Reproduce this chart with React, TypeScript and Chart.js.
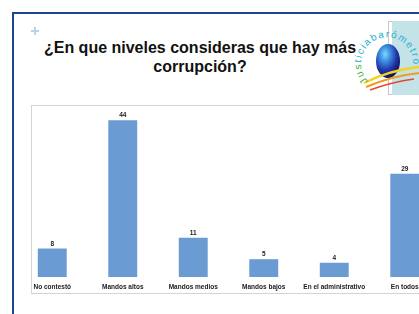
import React, { useEffect, useRef } from "react";
import { Chart, registerables } from "chart.js";

Chart.register(...registerables);

const categories = [
  "No contestó",
  "Mandos altos",
  "Mandos medios",
  "Mandos bajos",
  "En el administrativo",
  "En todos",
];
const values = [8, 44, 11, 5, 4, 29];
const titleLines = ["¿En que niveles consideras que hay más", "corrupción?"];
const logoText = "Justiciabarómetro";

const FONT = "'Liberation Sans', Arial, Helvetica, sans-serif";

const valueLabels = {
  id: "valueLabels",
  afterDatasetsDraw(chart: any) {
    const ctx = chart.ctx;
    const meta = chart.getDatasetMeta(0);
    const data = chart.data.datasets[0].data;
    ctx.save();
    ctx.font = `bold 6.5px ${FONT}`;
    ctx.fillStyle = "#1a1a1a";
    ctx.textAlign = "center";
    ctx.textBaseline = "alphabetic";
    meta.data.forEach((bar: any, i: number) => {
      ctx.fillText(String(data[i]), bar.x, bar.y - 3);
    });
    ctx.restore();
  },
};

function BarChart() {
  const ref = useRef<HTMLCanvasElement | null>(null);
  useEffect(() => {
    if (!ref.current) return;
    const chart = new Chart(ref.current, {
      type: "bar",
      data: {
        labels: categories,
        datasets: [
          {
            data: values,
            backgroundColor: "#6a9bd3",
            borderWidth: 0,
            categoryPercentage: 1,
            barPercentage: 0.41,
          },
        ],
      },
      options: {
        animation: false,
        responsive: false,
        maintainAspectRatio: false,
        devicePixelRatio: 1,
        layout: { padding: 0 },
        plugins: {
          legend: { display: false },
          tooltip: { enabled: false },
          title: { display: false },
        },
        scales: {
          x: {
            offset: true,
            grid: { display: false, drawTicks: false },
            border: { display: false },
            ticks: {
              padding: 6,
              color: "#1a1a1a",
              font: { family: FONT, size: 6.5, weight: "bold" },
              maxRotation: 0,
              minRotation: 0,
              autoSkip: false,
            },
            afterFit: (s: any) => {
              s.height = 16;
            },
          },
          y: { display: false, min: 0, max: 50 },
        },
      },
      plugins: [valueLabels],
    } as any);
    return () => chart.destroy();
  }, []);
  return (
    <canvas
      ref={ref}
      width={423}
      height={194}
      style={{ position: "absolute", left: 17, top: 99, width: 423, height: 194 }}
    />
  );
}

function Logo() {
  return (
    <svg
      width={419}
      height={110}
      viewBox="0 0 419 110"
      style={{ position: "absolute", left: 0, top: 0 }}
    >
      <defs>
        <radialGradient id="ball" cx="38%" cy="30%" r="75%">
          <stop offset="0%" stopColor="#7fd8ff" />
          <stop offset="30%" stopColor="#3a8ee0" />
          <stop offset="65%" stopColor="#2333a8" />
          <stop offset="100%" stopColor="#0e0f4a" />
        </radialGradient>
        <path id="arc" d="M 368 81 A 26 26 0 1 1 407 80" />
      </defs>
      {/* cross icon */}
      <line x1={35} y1={27} x2={35} y2={35} stroke="#b8d5e6" strokeWidth={2} />
      <line x1={31} y1={31} x2={39} y2={31} stroke="#b8d5e6" strokeWidth={2} />
      {/* logo panel */}
      <rect x={388.5} y={21.5} width={40} height={73} fill="#ffffff" stroke="#c6c6c6" />
      <rect x={392} y={21} width={30} height={74} fill="#c3e3e9" />
      <ellipse cx={388} cy={61} rx={12} ry={17} fill="url(#ball)" />
      <path d="M 364 83 Q 390 70 419 67" stroke="#f3d321" strokeWidth={2.5} fill="none" />
      <path d="M 366 87 Q 392 76 419 73" stroke="#f39a1d" strokeWidth={2} fill="none" />
      <path d="M 370 90 Q 392 82 414 79" stroke="#e5492e" strokeWidth={1.6} fill="none" />
      <text fontFamily={FONT} fontSize={10} letterSpacing={1.4} fill="#26b0c4">
        <textPath href="#arc">
          <tspan fill="#45b04a">Jus</tspan>
          {logoText.slice(3)}
        </textPath>
      </text>
    </svg>
  );
}

export default function App() {
  return (
    <div
      style={{
        position: "fixed",
        left: 0,
        top: 0,
        width: 419,
        height: 314,
        overflow: "hidden",
        background: "#ffffff",
        fontFamily: FONT,
      }}
    >
      <div
        style={{
          position: "absolute",
          left: 12,
          top: 12,
          width: 430,
          height: 330,
          border: "2px solid #1d4786",
          boxSizing: "border-box",
        }}
      />
      <div
        style={{
          position: "absolute",
          left: 0,
          top: 38,
          width: 400,
          textAlign: "center",
          fontSize: 16,
          lineHeight: "19px",
          fontWeight: "bold",
          color: "#111111",
        }}
      >
        {titleLines[0]}
        <br />
        {titleLines[1]}
      </div>
      <Logo />
      <div
        style={{
          position: "absolute",
          left: 31,
          top: 105,
          width: 400,
          height: 189,
          border: "1px solid #d4d4d4",
          boxSizing: "border-box",
        }}
      />
      <BarChart />
    </div>
  );
}
